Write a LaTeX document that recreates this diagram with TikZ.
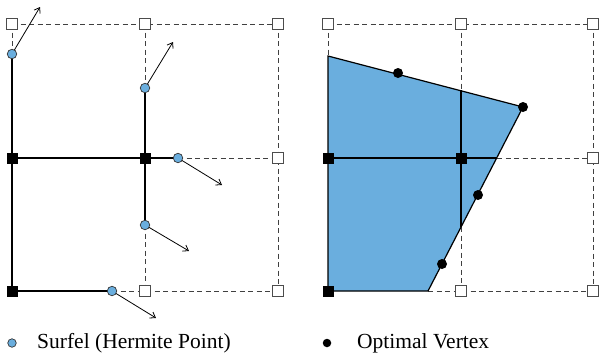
\documentclass[tikz,border=0pt]{standalone}
\usepackage{fontspec}
\setmainfont{Liberation Serif}
\usetikzlibrary{arrows.meta}
\definecolor{sblue}{RGB}{106,174,222}
\tikzset{
  gridline/.style={draw=black!75, dashed, dash pattern=on 5pt off 3.5pt, line width=0.8pt},
  solidline/.style={draw=black, line width=1.2pt},
  opensq/.style={draw=black!70, fill=white, minimum size=11pt, inner sep=0pt, line width=0.8pt},
  fullsq/.style={fill=black, minimum size=11pt, inner sep=0pt},
  surfel/.style={circle, draw=black!80, fill=sblue, minimum size=9.5pt, inner sep=0pt, line width=0.7pt},
  optv/.style={circle, fill=black, minimum size=10pt, inner sep=0pt},
  normal/.style={-{Straight Barb[length=5pt,width=7pt]}, line width=0.8pt},
  legend/.style={anchor=west, font=\fontsize{21.5}{24}\selectfont, inner sep=0pt}
}
\begin{document}
\begin{tikzpicture}[x=1pt,y=-1pt]
\useasboundingbox (0,0) rectangle (599,354);
% ---------- left panel ----------
\draw[gridline] (12,24) -- (278,24) (12,24) -- (12,54)
  (145,24) -- (145,88) (278,24) -- (278,291)
  (178,158) -- (278,158) (145,225) -- (145,291) (112,291) -- (278,291);
\draw[solidline] (12,54) -- (12,291) (12,158) -- (178,158)
  (145,88) -- (145,225) (12,291) -- (112,291);
\node[opensq] (la) at (12,24) {};
\node[opensq] (lb) at (145,24) {};
\node[opensq] (lc) at (278,24) {};
\node[fullsq] (ld) at (12,158) {};
\node[fullsq] (le) at (145,158) {};
\node[opensq] (lf) at (278,158) {};
\node[fullsq] (lg) at (12,291) {};
\node[opensq] (lh) at (145,291) {};
\node[opensq] (li) at (278,291) {};
\coordinate (n1) at (40,7);
\coordinate (n2) at (173,42);
\coordinate (n3) at (222,185);
\coordinate (n4) at (189,251);
\coordinate (n5) at (156,318);
\draw[normal] (12,54) -- (n1);
\draw[normal] (145,88) -- (n2);
\draw[normal] (178,158) -- (n3);
\draw[normal] (145,225) -- (n4);
\draw[normal] (112,291) -- (n5);
\node[surfel] (s1) at (12,54) {};
\node[surfel] (s2) at (145,88) {};
\node[surfel] (s3) at (178,158) {};
\node[surfel] (s4) at (145,225) {};
\node[surfel] (s5) at (112,291) {};
% ---------- right panel ----------
\fill[sblue] (328,56) -- (523,107) -- (428,291) -- (328,291) -- cycle;
\draw[gridline] (328,24) -- (593,24) (328,24) -- (328,56)
  (461,24) -- (461,90) (593,24) -- (593,291)
  (497,158) -- (593,158) (461,227) -- (461,291) (428,291) -- (593,291);
\draw[solidline] (461,90) -- (461,227) (328,158) -- (497,158);
\draw[solidline] (328,291) -- (328,56) -- (523,107) -- (428,291) -- (328,291);
\node[opensq] (ra) at (328,24) {};
\node[opensq] (rb) at (461,24) {};
\node[opensq] (rc) at (593,24) {};
\node[fullsq] (rd) at (328,158) {};
\node[fullsq] (re) at (461,158) {};
\node[opensq] (rf) at (593,158) {};
\node[fullsq] (rg) at (328,291) {};
\node[opensq] (rh) at (461,291) {};
\node[opensq] (ri) at (593,291) {};
\node[optv] (v1) at (398,73) {};
\node[optv] (v2) at (523,107) {};
\node[optv] (v3) at (478,195) {};
\node[optv] (v4) at (442,264) {};
% ---------- legend ----------
\node[surfel, minimum size=8.5pt] (ls) at (12,343) {};
\node[legend] (lt) at (37,343) {Surfel (Hermite Point)};
\node[optv, minimum size=8.5pt] (lv) at (327,343) {};
\node[legend] (lu) at (357,343) {Optimal Vertex};
\end{tikzpicture}
\end{document}
